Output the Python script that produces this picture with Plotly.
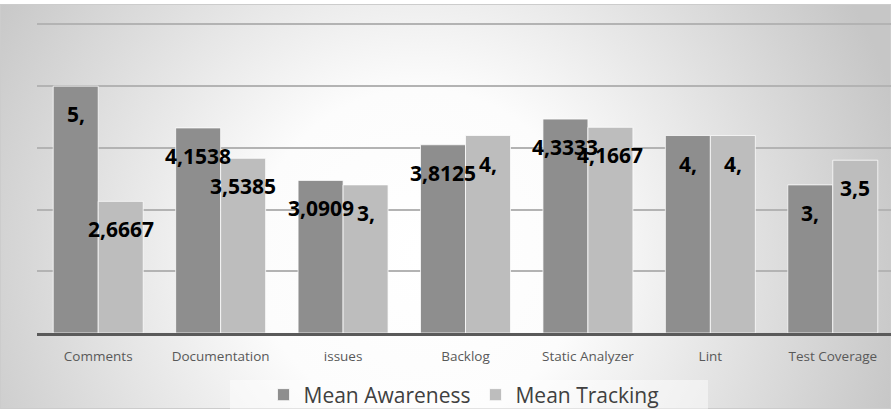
import urllib.parse

import plotly.graph_objects as go

categories = ["Comments", "Documentation", "issues", "Backlog", "Static Analyzer", "Lint", "Test Coverage"]
mean_awareness = [5.0, 4.1538, 3.0909, 3.8125, 4.3333, 4.0, 3.0]
mean_tracking = [2.6667, 3.5385, 3.0, 4.0, 4.1667, 4.0, 3.5]
awareness_labels = ["5,", "4,1538", "3,0909", "3,8125", "4,3333", "4,", "3,"]
tracking_labels = ["2,6667", "3,5385", "3,", "4,", "4,1667", "4,", "3,5"]

W, H = 891, 409
M_L, M_R, M_T, M_B = 37, 0, 20, 76
PLOT_W = W - M_L - M_R
PLOT_H = H - M_T - M_B

DARK = "#8e8e8e"
LIGHT = "#bdbdbd"


def px_x(px):
    """figure pixel -> paper x"""
    return (px - M_L) / PLOT_W


def px_y(py):
    """figure pixel -> paper y"""
    return (M_T + PLOT_H - py) / PLOT_H


# radial grey-to-white background, as an inline svg
svg = (
    "<svg xmlns='http://www.w3.org/2000/svg' width='891' height='405' preserveAspectRatio='none'>"
    "<defs><radialGradient id='g' gradientUnits='userSpaceOnUse' cx='420' cy='250' r='500'>"
    "<stop offset='0' stop-color='#ffffff'/>"
    "<stop offset='0.33' stop-color='#fcfcfc'/>"
    "<stop offset='1' stop-color='#c6c6c6'/>"
    "</radialGradient></defs>"
    "<rect width='891' height='405' fill='url(#g)'/>"
    "<rect x='0.5' y='0.5' width='890' height='404' fill='none' stroke='#cccccc'/>"
    "</svg>"
)
bg_uri = "data:image/svg+xml;charset=utf-8," + urllib.parse.quote(svg)

fig = go.Figure()
fig.add_trace(go.Bar(
    x=categories, y=mean_awareness, name="Mean Awareness",
    marker=dict(color=DARK, line=dict(color="rgba(255,255,255,0.75)", width=1)),
))
fig.add_trace(go.Bar(
    x=categories, y=mean_tracking, name="Mean Tracking",
    marker=dict(color=LIGHT, line=dict(color="rgba(255,255,255,0.75)", width=1)),
))

half = 22.5  # pixel offset from group centre to each bar centre
annotations = []
for cat, val, lab in zip(categories, mean_awareness, awareness_labels):
    annotations.append(dict(x=cat, y=val, text=lab, xshift=-half, yshift=-28,
                            showarrow=False, yanchor="middle"))
for cat, val, lab in zip(categories, mean_tracking, tracking_labels):
    annotations.append(dict(x=cat, y=val, text=lab, xshift=half, yshift=-28,
                            showarrow=False, yanchor="middle"))

fig.update_layout(
    width=W, height=H,
    margin=dict(l=M_L, r=M_R, t=M_T, b=M_B, autoexpand=False),
    paper_bgcolor="white",
    plot_bgcolor="rgba(0,0,0,0)",
    barmode="group",
    bargap=0.265,
    bargroupgap=0,
    annotations=annotations,
    font=dict(family="Open Sans, sans-serif", color="#595959"),
    images=[dict(
        source=bg_uri, xref="paper", yref="paper",
        x=px_x(0), y=px_y(4),
        sizex=W / PLOT_W, sizey=(H - 4) / PLOT_H,
        xanchor="left", yanchor="top", sizing="stretch", layer="below",
    )],
    shapes=[dict(
        type="rect", xref="paper", yref="paper",
        x0=px_x(230), x1=px_x(708), y0=px_y(409), y1=px_y(380),
        fillcolor="rgba(255,255,255,0.45)", line=dict(width=0), layer="below",
    )],
    legend=dict(
        orientation="h", x=0.5, xanchor="center",
        yref="container", y=1 - 395 / H, yanchor="middle",
        font=dict(size=21, color="#404040"), bgcolor="rgba(0,0,0,0)",
        itemclick=False,
    ),
    showlegend=True,
)
fig.update_annotations(font=dict(family="Open Sans, sans-serif", size=21, color="black", weight="bold"))

fig.update_xaxes(
    range=[-0.5, 6.5 - 3 / 122.5],
    showline=True, linecolor="#5a5a5a", linewidth=3,
    ticks="outside", ticklen=9, tickcolor="rgba(0,0,0,0)",
    tickfont=dict(size=13.5, color="#595959"),
    showgrid=False,
)
fig.update_yaxes(
    range=[0, 6.34], dtick=1.25, tick0=0,
    showticklabels=False, gridcolor="#b3b3b3", gridwidth=2,
    zeroline=False,
)

# page body has a default 8px margin; drop it so the figure sits at the window corner
fig.write_html(
    "out.html",
    config={"displayModeBar": False},
    post_script="document.body.style.margin='0';",
)
